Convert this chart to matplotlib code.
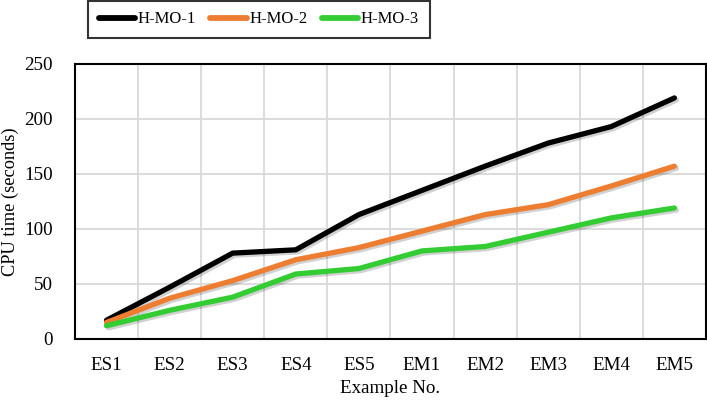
import matplotlib.pyplot as plt
import matplotlib.patheffects as pe

# Data
examples = ['ES1', 'ES2', 'ES3', 'ES4', 'ES5', 'EM1', 'EM2', 'EM3', 'EM4', 'EM5']
h_mo_1 = [17, 47, 78, 81, 113, 135, 157, 178, 193, 219]
h_mo_2 = [15, 37, 53, 72, 83, 98, 113, 122, 139, 157]
h_mo_3 = [12, 26, 38, 59, 64, 80, 84, 97, 110, 119]

series_names = ['H-MO-1', 'H-MO-2', 'H-MO-3']
colors = ['#000000', '#ED7D31', '#33CC33']

plt.rcParams['font.family'] = ['Liberation Serif', 'DejaVu Serif']

fig = plt.figure(figsize=(7.07, 4.04), dpi=100)
ax = fig.add_axes([0.106, 0.161, 0.8925, 0.681])

x = range(len(examples))
for vals, name, c in zip([h_mo_1, h_mo_2, h_mo_3], series_names, colors):
    ax.plot(x, vals, color=c, lw=3.8, label=name, solid_joinstyle='round',
            solid_capstyle='round',
            path_effects=[pe.SimpleLineShadow(offset=(1.5, -1.5), alpha=0.18), pe.Normal()])

ax.set_xlim(-0.5, len(examples) - 0.5)
ax.set_ylim(0, 250)
ax.set_yticks(range(0, 251, 50))
ax.set_xticks(list(x))
ax.set_xticklabels(examples)
ax.set_xticks([i + 0.5 for i in range(len(examples) - 1)], minor=True)
ax.grid(True, which='minor', axis='x', color='#d9d9d9', lw=1.3)
ax.grid(True, which='major', axis='y', color='#d9d9d9', lw=1.3)
ax.set_axisbelow(True)
ax.tick_params(which='both', length=0, labelsize=13.7, colors='black')
ax.tick_params(axis='x', pad=13)
ax.tick_params(axis='y', pad=16)
for s in ax.spines.values():
    s.set_linewidth(1.5)
    s.set_color('black')

ax.set_xlabel('Example No.', fontsize=13.7, labelpad=4)
ax.set_ylabel('CPU time (seconds)', fontsize=13.2)
ax.yaxis.set_label_coords(-0.089, 0.5)

leg = fig.legend(loc='center', bbox_to_anchor=(0.366, 0.952), ncol=3, fontsize=12,
                 frameon=True, fancybox=False, edgecolor='black', handlelength=2.2,
                 handletextpad=0.15, columnspacing=0.85, borderpad=0.65,
                 borderaxespad=0)
leg.get_frame().set_linewidth(1.5)
for line in leg.get_lines():
    line.set_linewidth(4.2)
    line.set_solid_capstyle('round')
    line.set_path_effects([])

fig.savefig('out.png', dpi=100)
